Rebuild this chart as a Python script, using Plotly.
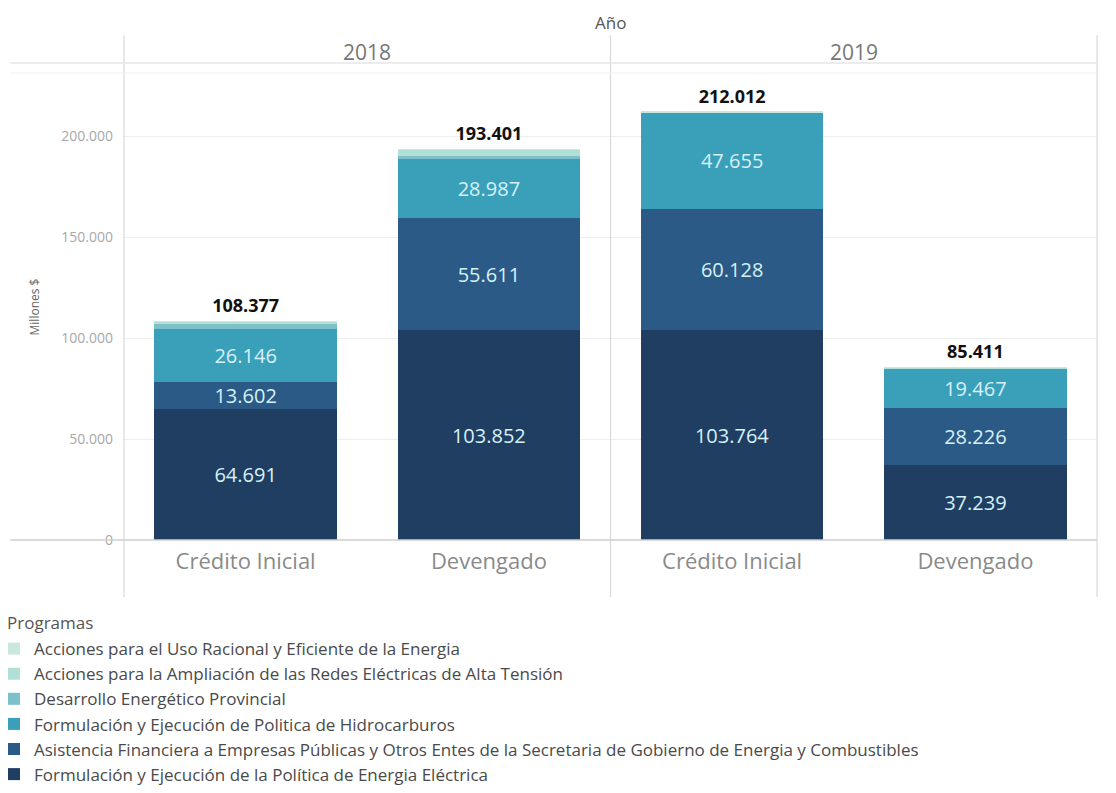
import plotly.graph_objects as go

# ---------------- data ----------------
years = ["2018", "2019"]
categories = ["Crédito Inicial", "Devengado"]

# values ordered: [2018 Crédito Inicial, 2018 Devengado, 2019 Crédito Inicial, 2019 Devengado]
energia_electrica = [64691, 103852, 103764, 37239]
asistencia_financiera = [13602, 55611, 60128, 28226]
hidrocarburos = [26146, 28987, 47655, 19467]
desarrollo_provincial = [2900, 1700, 0, 0]
ampliacion_redes = [800, 3000, 200, 250]
uso_racional = [238, 251, 265, 229]

series_names = [
    "Formulación y Ejecución de la Política de Energia Eléctrica",
    "Asistencia Financiera a Empresas Públicas y Otros Entes de la Secretaria de Gobierno de Energia y Combustibles",
    "Formulación y Ejecución de Politica de Hidrocarburos",
    "Desarrollo Energético Provincial",
    "Acciones para la Ampliación de las Redes Eléctricas de Alta Tensión",
    "Acciones para el Uso Racional y Eficiente de la Energia",
]
series_values = [energia_electrica, asistencia_financiera, hidrocarburos,
                 desarrollo_provincial, ampliacion_redes, uso_racional]
series_colors = ["#1f3e61", "#2b5a86", "#3a9fb8", "#7cc1ca", "#b3e0d6", "#c9e7dc"]
series_labeled = [True, True, True, False, False, False]

totals = [sum(v[i] for v in series_values) for i in range(4)]

FONT = "Open Sans"
fig = go.Figure()

axes = [("x", "y"), ("x2", "y")]
for si, (name, vals, color, labeled) in enumerate(zip(series_names, series_values, series_colors, series_labeled)):
    for yi, (xa, ya) in enumerate(axes):
        yv = vals[yi * 2: yi * 2 + 2]
        fig.add_trace(go.Bar(
            x=categories, y=yv, name=name, xaxis=xa, yaxis=ya,
            marker=dict(color=color, line=dict(width=0)),
            legendgroup=name, showlegend=(yi == 0), legendrank=100 - si,
            texttemplate="%{y:,.0f}" if labeled else "",
            textposition="inside" if labeled else "none",
            insidetextanchor="middle", textangle=0,
            textfont=dict(family=FONT, size=20, color="#d6f1f8"),
            hoverinfo="skip",
        ))

for yi, (xa, ya) in enumerate(axes):
    fig.add_trace(go.Scatter(
        x=categories, y=totals[yi * 2: yi * 2 + 2], xaxis=xa, yaxis=ya,
        mode="markers+text", texttemplate="<b>%{y:,.0f}</b>", textposition="top center",
        marker=dict(size=6, color="rgba(0,0,0,0)"),
        textfont=dict(family=FONT, size=18, color="#111111"),
        showlegend=False, hoverinfo="skip", cliponaxis=False,
    ))

xcommon = dict(showline=False, showgrid=False, zeroline=False, ticks="",
               tickfont=dict(family=FONT, size=22, color="#8a8a8a"),
               ticklabelstandoff=6, fixedrange=True, automargin=False)
fig.update_layout(
    width=1108, height=785,
    margin=dict(l=116, r=19, t=65, b=253, autoexpand=False),
    paper_bgcolor="white", plot_bgcolor="white",
    separators=",.",
    barmode="stack", bargap=0.25,
    uniformtext=dict(mode="show", minsize=20),
    font=dict(family=FONT, color="#555555"),
    xaxis=dict(domain=[0, 0.5], **xcommon),
    xaxis2=dict(domain=[0.5, 1], anchor="y", **xcommon),
    yaxis=dict(range=[0, 231200], tickvals=[0, 50000, 100000, 150000, 200000],
               tickformat=",.0f", showgrid=True, gridcolor="#eeeeee", gridwidth=1,
               zeroline=False, showline=False, ticks="", automargin=False,
               tickfont=dict(family=FONT, size=14, color="#a8a8a8"),
               ticklabelstandoff=10),
    legend=dict(
        x=-0.1336, y=-0.195, xanchor="left", yanchor="top",
        traceorder="normal", tracegroupgap=3,
        font=dict(family=FONT, size=17, color="#4a4a4a"),
        itemclick=False, itemdoubleclick=False, bgcolor="rgba(0,0,0,0)",
    ),
    showlegend=True,
)

line_col = "#d9d9d9"
shapes = []
# vertical separators
for xv in [0, 0.5, 1]:
    shapes.append(dict(type="line", xref="paper", yref="paper", x0=xv, x1=xv,
                       y0=-0.122, y1=1.081, line=dict(color=line_col, width=1.2)))
# header line
shapes.append(dict(type="line", xref="paper", yref="paper", x0=-0.117, x1=1,
                   y0=1.0214, y1=1.0214, line=dict(color="#e6e6e6", width=1.5)))
# top of plot faint line
shapes.append(dict(type="line", xref="paper", yref="paper", x0=-0.117, x1=1,
                   y0=1.0, y1=1.0, line=dict(color="#f0f0f0", width=1)))
# bottom axis line
shapes.append(dict(type="line", xref="paper", yref="paper", x0=-0.117, x1=1,
                   y0=0, y1=0, line=dict(color="#cfcfcf", width=1.5)))
fig.update_layout(shapes=shapes)

ann = [
    dict(text="Año", x=0.5, y=1.109, xref="paper", yref="paper", showarrow=False,
         xanchor="center", yanchor="middle",
         font=dict(family=FONT, size=17, color="#555555")),
    dict(text=years[0], x=0.25, y=1.045, xref="paper", yref="paper", showarrow=False,
         xanchor="center", yanchor="middle",
         font=dict(family=FONT, size=21, color="#777777")),
    dict(text=years[1], x=0.75, y=1.045, xref="paper", yref="paper", showarrow=False,
         xanchor="center", yanchor="middle",
         font=dict(family=FONT, size=21, color="#777777")),
    dict(text="Millones $", x=-0.0915, y=0.5, xref="paper", yref="paper", showarrow=False,
         xanchor="center", yanchor="middle",
         textangle=-90, font=dict(family=FONT, size=12, color="#666666")),
    dict(text="Programas", x=-0.1223, y=-0.1756, xref="paper", yref="paper",
         xanchor="left", yanchor="middle", showarrow=False,
         font=dict(family=FONT, size=17, color="#555555")),
]
fig.update_layout(annotations=ann)

fig.write_html("out.html")
